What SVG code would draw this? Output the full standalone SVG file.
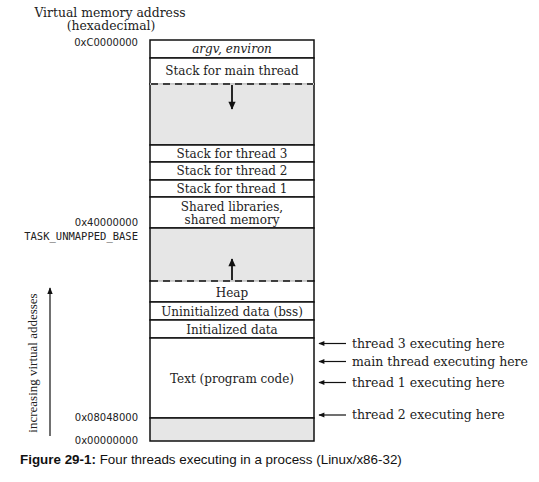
<svg xmlns="http://www.w3.org/2000/svg" width="539" height="482" viewBox="0 0 539 482">
<defs>
<style>
.lbl{font-family:"DejaVu Serif",serif;font-size:12px;fill:#222;text-anchor:middle}
.it{font-style:italic}
.rl{font-family:"DejaVu Serif",serif;font-size:12.5px;fill:#222}
.addr{font-family:"DejaVu Sans","Liberation Sans",sans-serif;font-size:10px;fill:#222;text-anchor:end}
.mono{font-family:"DejaVu Sans Mono","Liberation Mono",monospace;font-size:10.5px}
.box{fill:#fff;stroke:#111;stroke-width:1.5}
.grey{fill:#e6e6e6;stroke:#111;stroke-width:1.5}
.dash{stroke:#111;stroke-width:1.5;stroke-dasharray:7,5;fill:none}
.ln{stroke:#111;stroke-width:1.2;fill:none}
.ln2{stroke:#111;stroke-width:1.8;fill:none}
.cap{font-family:"Liberation Sans",sans-serif;font-size:13.4px;fill:#111}
</style>
<marker id="ah" viewBox="0 0 10 10" refX="9" refY="5" markerWidth="7" markerHeight="7" orient="auto" markerUnits="userSpaceOnUse">
<path d="M0,1 L10,5 L0,9 Z" fill="#111"/>
</marker>
<marker id="ahb" viewBox="0 0 10 10" refX="9" refY="5" markerWidth="9" markerHeight="8" orient="auto" markerUnits="userSpaceOnUse">
<path d="M0,0.5 L10,5 L0,9.5 Z" fill="#111"/>
</marker>
<marker id="ahs" viewBox="0 0 10 10" refX="9" refY="5" markerWidth="9" markerHeight="6" orient="auto" markerUnits="userSpaceOnUse">
<path d="M0,1 L10,5 L0,9 Z" fill="#111"/>
</marker>
</defs>
<rect width="539" height="482" fill="#fff"/>

<text x="110" y="16.5" class="lbl" style="font-size:12.4px">Virtual memory address</text>
<text x="111" y="30" class="lbl" style="font-size:12.4px">(hexadecimal)</text>

<g id="seg-argv"><rect x="150" y="40" width="164" height="18" class="box"/><text x="232" y="53" class="lbl it">argv, environ</text></g>
<g id="seg-mainstack"><rect x="150" y="58" width="164" height="26" class="box"/><text x="232" y="74.5" class="lbl">Stack for main thread</text></g>
<g id="seg-gap1"><rect x="150" y="84" width="164" height="61" class="grey"/><line x1="150" y1="84" x2="314" y2="84" stroke="#fff" stroke-width="1.6"/><line x1="151" y1="84" x2="313" y2="84" class="dash"/></g>
<g id="seg-t3"><rect x="150" y="145" width="164" height="17" class="box"/><text x="232" y="158" class="lbl">Stack for thread 3</text></g>
<g id="seg-t2"><rect x="150" y="162" width="164" height="18" class="box"/><text x="232" y="175" class="lbl">Stack for thread 2</text></g>
<g id="seg-t1"><rect x="150" y="180" width="164" height="17" class="box"/><text x="232" y="192.5" class="lbl">Stack for thread 1</text></g>
<g id="seg-shared"><rect x="150" y="197" width="164" height="31" class="box"/><text x="232" y="210.5" class="lbl">Shared libraries,</text><text x="232" y="223.5" class="lbl">shared memory</text></g>
<g id="seg-gap2"><rect x="150" y="228" width="164" height="53" class="grey"/></g>
<g id="seg-heap"><rect x="150" y="281" width="164" height="21" class="box"/><line x1="151" y1="281" x2="313" y2="281" stroke="#fff" stroke-width="1.6"/><line x1="151" y1="281" x2="313" y2="281" class="dash"/><text x="232" y="296.5" class="lbl">Heap</text></g>
<g id="seg-bss"><rect x="150" y="302" width="164" height="18" class="box"/><text x="232" y="315.5" class="lbl">Uninitialized data (bss)</text></g>
<g id="seg-init"><rect x="150" y="320" width="164" height="18" class="box"/><text x="232" y="333.5" class="lbl">Initialized data</text></g>
<g id="seg-text"><rect x="150" y="338" width="164" height="80" class="box"/><text x="232" y="382.5" class="lbl">Text (program code)</text></g>
<g id="seg-low"><rect x="150" y="418" width="164" height="23" class="grey"/></g>

<g id="addresses">
<text x="138" y="46" class="addr">0xC0000000</text>
<text x="138" y="226" class="addr">0x40000000</text>
<text x="138" y="240" class="addr mono">TASK_UNMAPPED_BASE</text>
<text x="138" y="421" class="addr">0x08048000</text>
<text x="138" y="444" class="addr">0x00000000</text>
</g>

<g id="connectors">
<line x1="232" y1="85" x2="232" y2="109" class="ln2" marker-end="url(#ahb)"/>
<line x1="232" y1="280" x2="232" y2="259" class="ln2" marker-end="url(#ahb)"/>
<line x1="50" y1="436" x2="50" y2="288" class="ln" marker-end="url(#ah)"/>
<line x1="346" y1="343.5" x2="319" y2="343.5" class="ln" marker-end="url(#ahs)"/>
<line x1="346" y1="361.5" x2="319" y2="361.5" class="ln" marker-end="url(#ahs)"/>
<line x1="346" y1="382.5" x2="319" y2="382.5" class="ln" marker-end="url(#ahs)"/>
<line x1="346" y1="415" x2="319" y2="415" class="ln" marker-end="url(#ahs)"/>
</g>

<g id="right-labels">
<text x="352" y="348" class="rl">thread 3 executing here</text>
<text x="352" y="366" class="rl">main thread executing here</text>
<text x="352" y="386.5" class="rl">thread 1 executing here</text>
<text x="352" y="419" class="rl">thread 2 executing here</text>
</g>

<text transform="translate(37,363) rotate(-90)" style="font-family:'Liberation Serif',serif;font-size:13px;fill:#222;text-anchor:middle">increasing virtual addesses</text>

<text x="20" y="464" class="cap"><tspan font-weight="bold">Figure 29-1:</tspan> Four threads executing in a process (Linux/x86-32)</text>
</svg>
